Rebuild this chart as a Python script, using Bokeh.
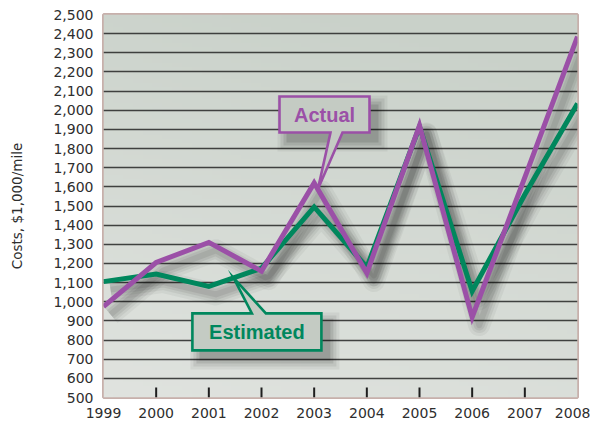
import numpy as np
from bokeh.plotting import figure
from bokeh.models import FixedTicker, NumeralTickFormatter, Range1d
from bokeh.core.properties import value
from bokeh.embed import file_html
from bokeh.resources import INLINE

# Construction cost per mile, $1,000/mile
years = [1999, 2000, 2001, 2002, 2003, 2004, 2005, 2006, 2007, 2008]
actual = [975, 1205, 1310, 1160, 1620, 1150, 1920, 920, 1650, 2385]
estimated = [1105, 1145, 1080, 1175, 1495, 1180, 1915, 1055, 1560, 2035]

y_ticks = [500, 600, 700, 800, 900, 1000, 1100, 1200, 1300, 1400, 1500,
           1600, 1700, 1800, 1900, 2000, 2100, 2200, 2300, 2400, 2500]
x_ticks = years
inner_year_ticks = years[1:-1]

PURPLE = "#9b50a7"
GREEN = "#00875d"
BOX_FILL = "#c4cbc3"
LABEL_COLOR = "#2e2e2e"

W, H = 590, 421
LEFT, RIGHT, TOP, BOTTOM = 103, 13, 14, 24
FRAME_W = W - LEFT - RIGHT
FRAME_H = H - TOP - BOTTOM

x0, x1 = years[0], years[-1]
y0, y1 = y_ticks[0], y_ticks[-1]
UX = FRAME_W / (x1 - x0)   # pixels per year
UY = FRAME_H / (y1 - y0)   # pixels per $1,000


def px_x(px):
    return px / UX


def px_y(px):
    return px / UY


p = figure(width=W, height=H, x_range=Range1d(x0, x1), y_range=Range1d(y0, y1),
           output_backend="svg", toolbar_location=None,
           min_border_left=LEFT, min_border_right=RIGHT,
           min_border_top=TOP, min_border_bottom=BOTTOM)

p.background_fill_color = "#d6dbd5"
p.border_fill_color = "white"
p.outline_line_color = "#c7b0ab"
p.outline_line_width = 3

# soft grey-green panel gradient: darker toward the top and right
rows, cols = 96, 48
t = np.linspace(0.0, 1.0, rows)[:, None]   # 0 at bottom, 1 at top
s = np.linspace(0.0, 1.0, cols)[None, :]   # 0 at left, 1 at right
bottom_rgb = np.array([224, 227, 223])
top_rgb = np.array([201, 209, 201])
shade = np.clip(t * 0.85 + s * 0.25, 0, 1)[..., None]
rgb = (bottom_rgb * (1 - shade) + top_rgb * shade).astype(np.uint32)
img = (255 << 24) | (rgb[..., 2] << 16) | (rgb[..., 1] << 8) | rgb[..., 0]
p.image_rgba(image=[img.astype(np.uint32)], x=x0, y=y0, dw=x1 - x0, dh=y1 - y0,
             level="image")

# axes
p.yaxis.ticker = FixedTicker(ticks=y_ticks)
p.yaxis.formatter = NumeralTickFormatter(format="0,0")
p.xaxis.ticker = FixedTicker(ticks=x_ticks)
for ax in (p.xaxis[0], p.yaxis[0]):
    ax.axis_line_color = None
    ax.major_tick_line_color = None
    ax.minor_tick_line_color = None
    ax.major_tick_out = 0
    ax.major_tick_in = 0
    ax.major_label_text_font = "DejaVu Sans"
    ax.major_label_text_font_size = "14px"
    ax.major_label_text_color = LABEL_COLOR
p.yaxis.major_label_standoff = 10
p.xaxis.major_label_standoff = 10
p.yaxis.axis_label = "Costs, $1,000/mile"
p.yaxis.axis_label_text_font = "DejaVu Sans"
p.yaxis.axis_label_text_font_size = "13.5px"
p.yaxis.axis_label_text_font_style = "normal"
p.yaxis.axis_label_text_color = LABEL_COLOR
p.yaxis.axis_label_standoff = 25

p.xgrid.grid_line_color = None
p.ygrid.ticker = FixedTicker(ticks=y_ticks[1:-1])
p.ygrid.grid_line_color = "#2f302f"
p.ygrid.grid_line_width = 1.6
p.ygrid.grid_line_alpha = 0.9

# short year ticks standing on the bottom edge
p.segment(x0=inner_year_ticks, y0=[y0] * len(inner_year_ticks),
          x1=inner_year_ticks, y1=[y0 + px_y(10)] * len(inner_year_ticks),
          line_color="#1e1e1e", line_width=2)

# blurred drop shadows under both lines
sdx, sdy = px_x(7), -px_y(8)
for series in (estimated, actual):
    xs = [x + sdx for x in years]
    ys = [v + sdy for v in series]
    for w, a in ((22, 0.045), (16, 0.055), (11, 0.065), (6, 0.07)):
        p.line(xs, ys, line_color="black", line_width=w, line_alpha=a,
               line_join="round")

p.line(years, estimated, line_color=GREEN, line_width=5, line_join="miter")
p.line(years, actual, line_color=PURPLE, line_width=5, line_join="miter")


def callout(cx, cy, w_px, h_px, base_px, tip_x, series, text, color, pointer_down):
    hw, hh = px_x(w_px / 2), px_y(h_px / 2)
    tip_y = float(np.interp(tip_x, years, series))
    b0, b1 = cx + px_x(base_px[0]), cx + px_x(base_px[1])
    if pointer_down:
        xs = [cx - hw, cx + hw, cx + hw, b1, tip_x, b0, cx - hw]
        ys = [cy + hh, cy + hh, cy - hh, cy - hh, tip_y, cy - hh, cy - hh]
    else:
        xs = [cx - hw, b0, tip_x, b1, cx + hw, cx + hw, cx - hw]
        ys = [cy + hh, cy + hh, tip_y, cy + hh, cy + hh, cy - hh, cy - hh]
    # shadow of the box
    ox, oy = px_x(8), -px_y(9)
    for grow, a in ((10, 0.05), (7, 0.07), (4, 0.09), (1, 0.11)):
        gx, gy = px_x(grow), px_y(grow)
        p.quad(left=[cx - hw + ox - gx], right=[cx + hw + ox + gx],
               bottom=[cy - hh + oy - gy], top=[cy + hh + oy + gy],
               fill_color="black", fill_alpha=a, line_color=None)
    p.patch(xs, ys, fill_color=BOX_FILL, line_color=color, line_width=2.6,
            line_join="miter")
    p.text(x=[cx], y=[cy], text=[text], text_align="center",
           text_baseline="middle", text_font=value("Liberation Sans"),
           text_font_style="bold", text_font_size="20px", text_color=color)


callout(x0 + px_x(221), y0 + px_y(283), 90, 36, (6, 18), 2003.07, actual,
        "Actual", PURPLE, True)
callout(x0 + px_x(153.4), y0 + px_y(65.6), 129, 37, (-5, 9), 2001.47, estimated,
        "Estimated", GREEN, False)

open("out.html", "w").write(file_html(p, INLINE))
